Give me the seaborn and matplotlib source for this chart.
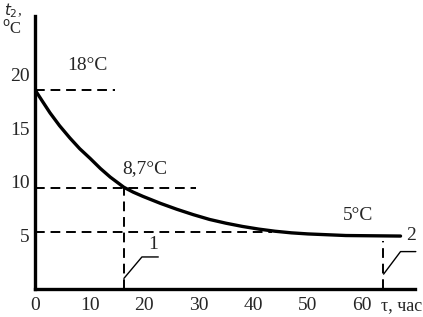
import matplotlib
matplotlib.use("Agg")
import matplotlib.pyplot as plt
import seaborn as sns
import pandas as pd

# data
tau = [0, 1.4, 2.75, 4.5, 6.4, 8.2, 10.1, 12.0, 13.8, 16.3, 18.0, 19.8, 23.0, 26.0, 29.0,
       32.0, 35.0, 38.0, 41.0, 44.0, 47.0, 50.0, 57.0, 67.0]
temp = [18.6, 17.5, 16.45, 15.25, 14.1, 13.1, 12.2, 11.25, 10.45, 9.5, 9.05, 8.65, 8.0, 7.45, 6.95,
        6.5, 6.15, 5.85, 5.6, 5.4, 5.25, 5.15, 5.0, 4.95]
x_ticks = [0, 10, 20, 30, 40, 50, 60]
y_ticks = [5, 10, 15, 20]
level_start, level_mid, level_end = 18.6, 9.47, 5.35
t_mid, t_end = 16.3, 63.8
labels_txt = ["18°C", "8,7°C", "5°C"]

df = pd.DataFrame({"tau": tau, "temp": temp})

sns.set_style("white")
plt.rcParams["font.family"] = ["Liberation Serif", "DejaVu Serif"]

fig = plt.figure(figsize=(4.23, 3.17), dpi=100)
ax = fig.add_axes([0.0827, 0.088, 0.899, 0.862])

sns.lineplot(data=df, x="tau", y="temp", ax=ax, color="black", linewidth=2.4, sort=True)

dash = dict(color="black", linewidth=1.4, linestyle=(0, (5, 3)))
ax.plot([0, 14.7], [level_start, level_start], **dash)
ax.plot([0, 29.5], [level_mid, level_mid], **dash)
ax.plot([0, 43.5], [level_end, level_end], **dash)
ax.plot([t_mid, t_mid], [0, level_mid], **dash)
ax.plot([t_end, t_end], [0, 4.5], **dash)

# leader lines
ax.plot([t_mid, 19.6, 22.6], [1.0, 3.0, 3.0], color="black", linewidth=1.0)
ax.plot([t_end + 0.1, 67.0, 69.8], [1.4, 3.5, 3.5], color="black", linewidth=1.0, clip_on=False)
ax.text(21.6, 4.2, "1", fontsize=14, ha="center", va="center")
ax.text(69.0, 5.0, "2", fontsize=14, ha="center", va="center")

ax.text(9.7, 20.9, labels_txt[0], fontsize=14, ha="center", va="center")
ax.text(20.2, 11.25, labels_txt[1], fontsize=14, ha="center", va="center")
ax.text(59.3, 6.85, labels_txt[2], fontsize=14, ha="center", va="center")

ax.set_xlim(0, 69.7)
ax.set_ylim(0, 25.5)
ax.set_xticks(x_ticks)
ax.set_yticks(y_ticks)
ax.set_xticklabels([str(v) for v in x_ticks], fontsize=14)
ax.set_yticklabels([str(v) for v in y_ticks], fontsize=14)
ax.tick_params(axis="both", length=0)
ax.tick_params(axis="x", pad=6)
ax.tick_params(axis="y", pad=4)
ax.set_xlabel("")
ax.set_ylabel("")
sns.despine(ax=ax)
for s in ["left", "bottom"]:
    ax.spines[s].set_linewidth(2.4)
    ax.spines[s].set_color("black")

fig.text(422 / 423, 1 - 306 / 317, "τ, час", fontsize=13, ha="right", va="center")
fig.text(4 / 423, 1 - 11 / 317, "$t_2$,", fontsize=11, ha="left", va="center",
         fontstyle="italic")
fig.text(2 / 423, 1 - 28 / 317, "$^{\\mathrm{o}}$C", fontsize=12, ha="left", va="center")

fig.savefig("out.png", dpi=100)
